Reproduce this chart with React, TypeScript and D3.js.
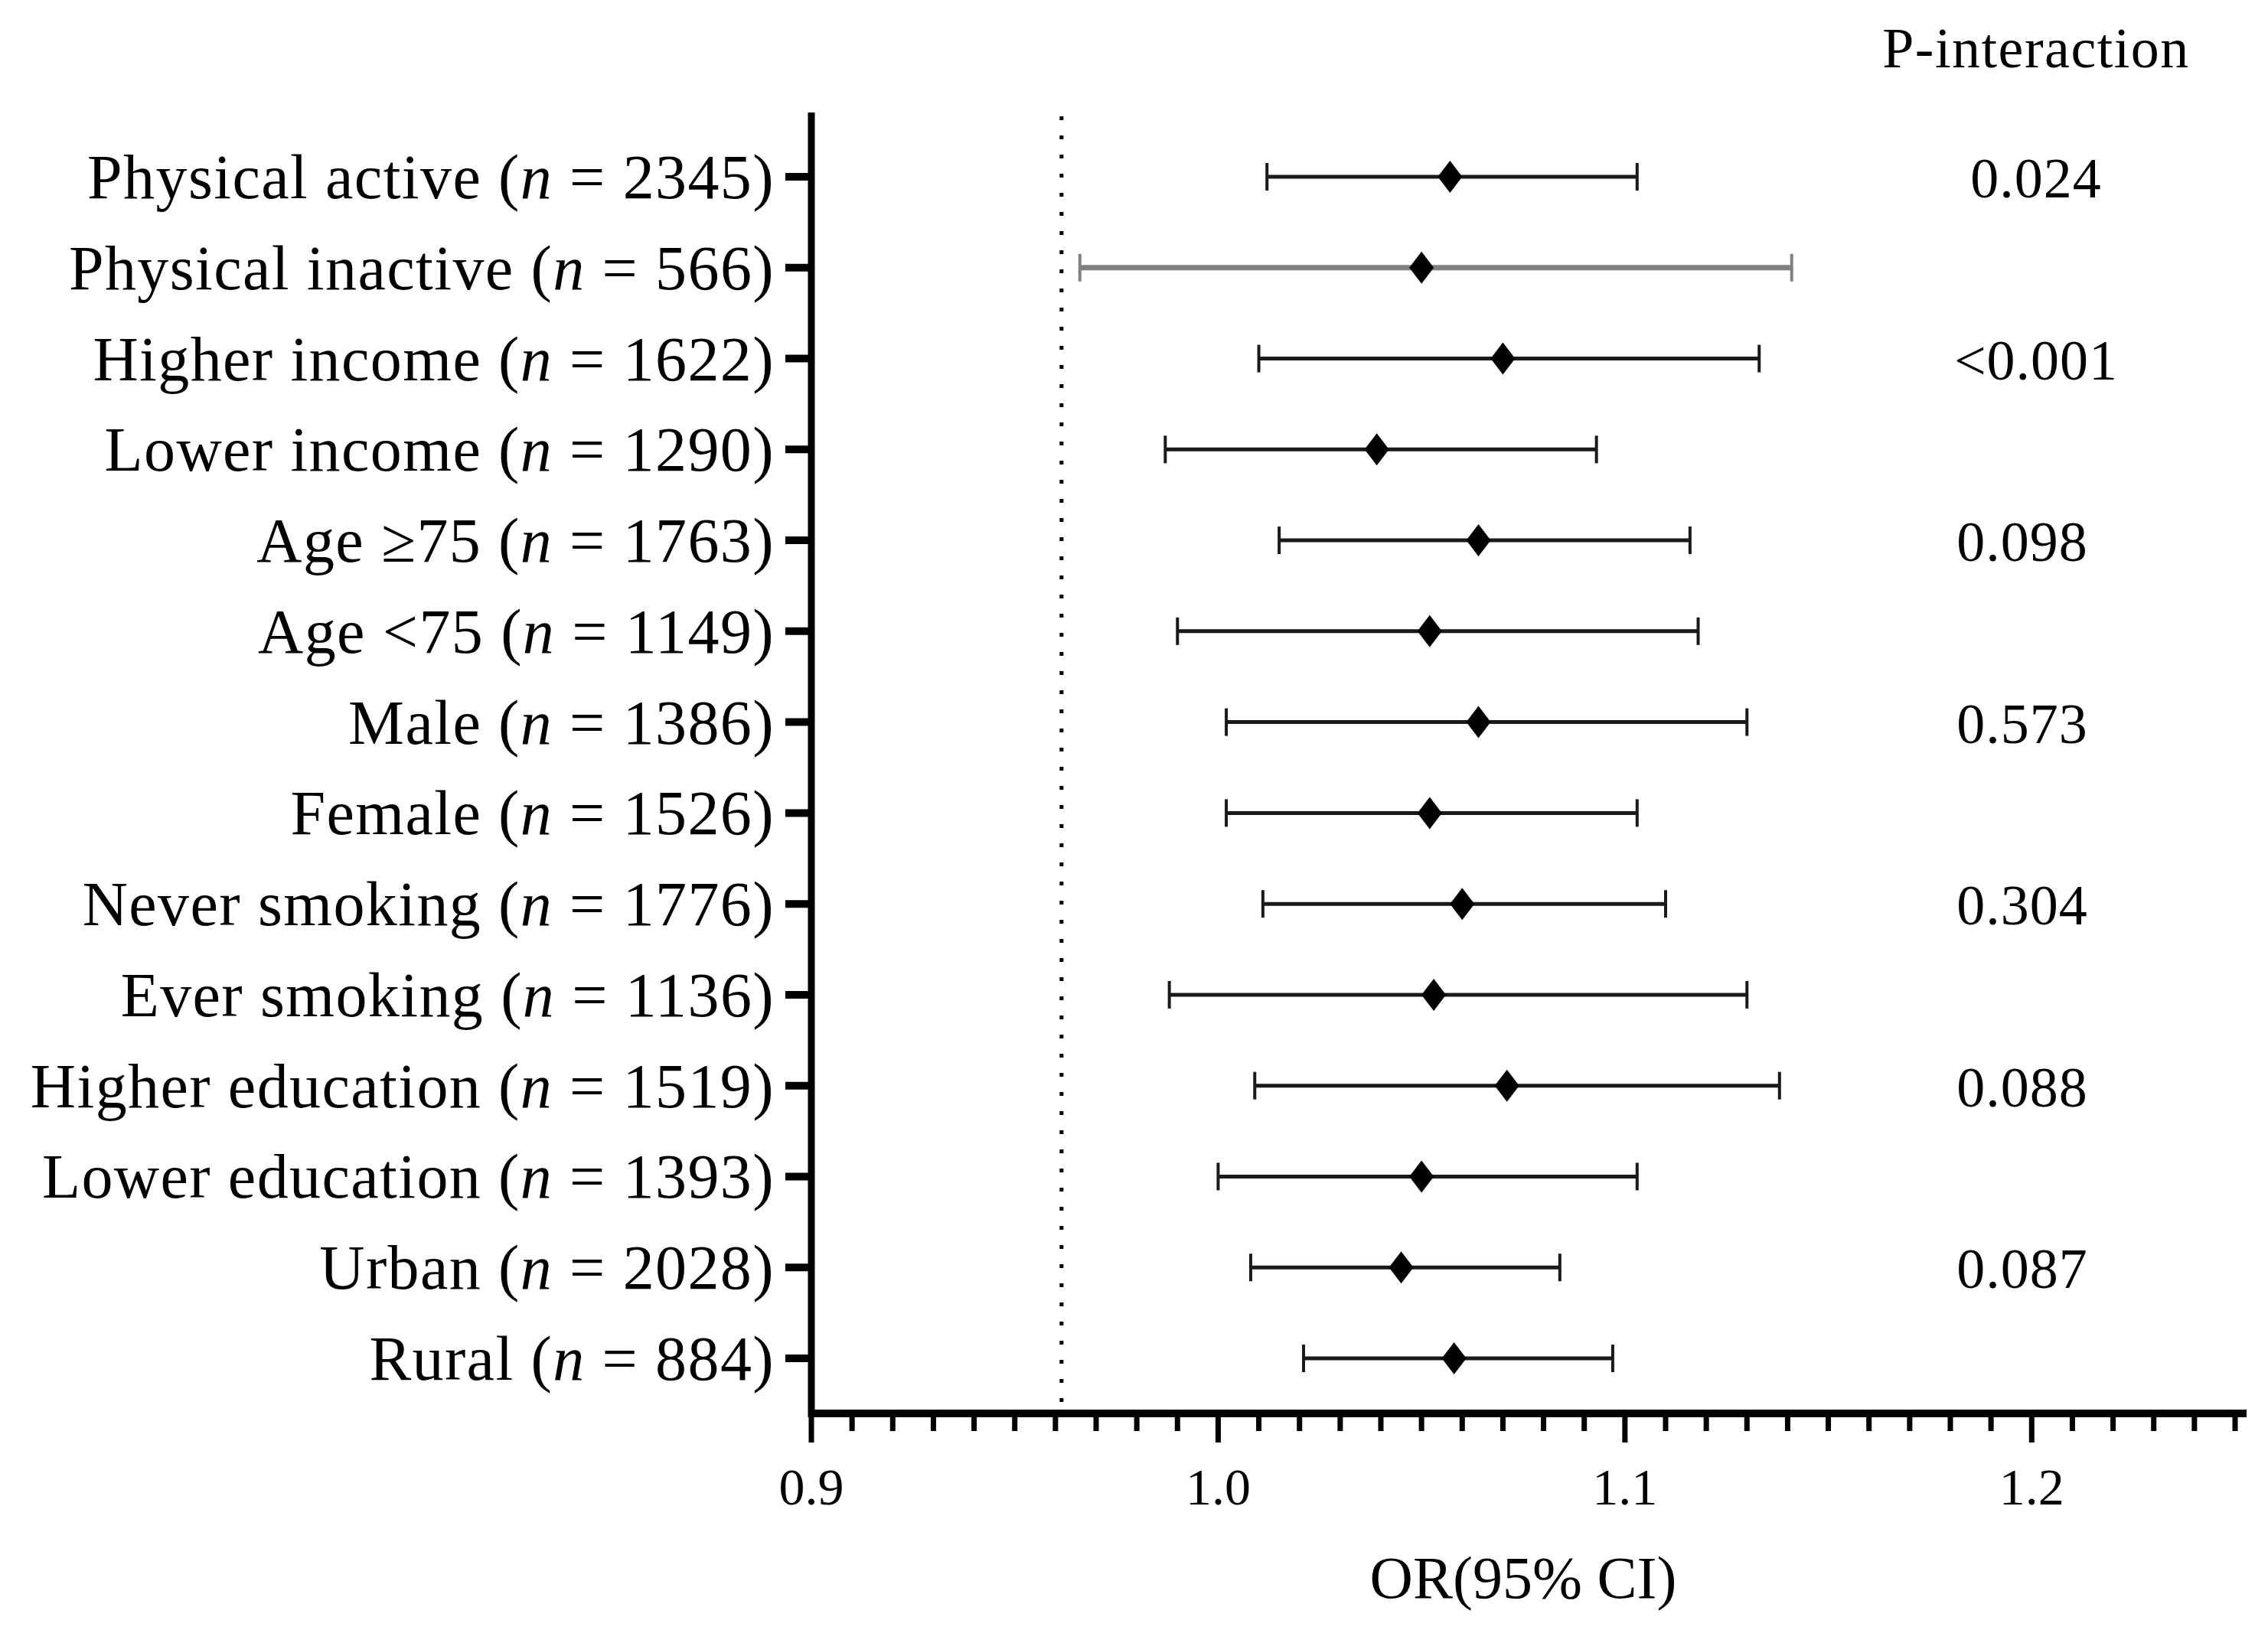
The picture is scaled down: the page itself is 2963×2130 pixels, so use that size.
import { useEffect } from "react"
import * as d3 from "d3"

const groups = [
  "Physical active",
  "Physical inactive",
  "Higher income",
  "Lower income",
  "Age ≥75",
  "Age <75",
  "Male",
  "Female",
  "Never smoking",
  "Ever smoking",
  "Higher education",
  "Lower education",
  "Urban",
  "Rural",
]
const sampleSizes = [2345, 566, 1622, 1290, 1763, 1149, 1386, 1526, 1776, 1136, 1519, 1393, 2028, 884]
const oddsRatio = [1.057, 1.050, 1.070, 1.039, 1.064, 1.052, 1.064, 1.052, 1.060, 1.053, 1.071, 1.050, 1.045, 1.058]
const lowerCI = [1.012, 0.966, 1.010, 0.987, 1.015, 0.990, 1.002, 1.002, 1.011, 0.988, 1.009, 1.000, 1.008, 1.021]
const upperCI = [1.103, 1.141, 1.133, 1.093, 1.116, 1.118, 1.130, 1.103, 1.110, 1.130, 1.138, 1.103, 1.084, 1.097]
const pInteraction = ["0.024", null, "<0.001", null, "0.098", null, "0.573", null, "0.304", null, "0.088", null, "0.087", null]
const xTicks = [0.9, 1.0, 1.1, 1.2]
const refLine = 0.9615

const W = 2963
const H = 2130
const font = "'Liberation Serif', 'DejaVu Serif', serif"

const App = () => {
  useEffect(() => {
    document.body.style.margin = "0"
  }, [])

  const x = d3.scaleLinear().domain([0.9, 1.25]).range([1060, 2920])
  const y = d3.scalePoint<string>().domain(groups).range([231, 1775])
  const axisY = 1847
  const minor = d3.range(90, 126).map((d) => d / 100)

  return (
    <svg width={W} height={H} style={{ display: "block", background: "#fff" }}>
      {/* dotted reference line */}
      <line
        x1={x(refLine)}
        x2={x(refLine)}
        y1={152}
        y2={axisY - 8}
        stroke="#000"
        strokeWidth={5}
        strokeDasharray="5,20"
      />

      {/* y axis */}
      <line x1={1060} x2={1060} y1={147} y2={axisY + 5} stroke="#000" strokeWidth={9} />
      {groups.map((g) => (
        <line key={g} x1={1026} x2={1060} y1={y(g)} y2={y(g)} stroke="#000" strokeWidth={10} />
      ))}

      {/* x axis */}
      <line x1={1056} x2={2935} y1={axisY} y2={axisY} stroke="#000" strokeWidth={10} />
      {minor.map((t) => {
        const major = xTicks.some((m) => Math.abs(m - t) < 1e-6)
        return (
          <line
            key={t}
            x1={x(t)}
            x2={x(t)}
            y1={axisY}
            y2={axisY + (major ? 38 : 23)}
            stroke="#000"
            strokeWidth={7}
          />
        )
      })}
      {xTicks.map((t) => (
        <text
          key={t}
          x={x(t)}
          y={1966}
          textAnchor="middle"
          fontFamily={font}
          fontSize={68}
          fill="#000"
        >
          {d3.format(".1f")(t)}
        </text>
      ))}
      <text x={1990} y={2088} textAnchor="middle" fontFamily={font} fontSize={78} fill="#000">
        OR(95% CI)
      </text>

      {/* header */}
      <text
        x={2660}
        y={88}
        textAnchor="middle"
        fontFamily={font}
        fontSize={74}
        letterSpacing={1.5}
        fill="#000"
      >
        P-interaction
      </text>

      {/* rows */}
      {groups.map((g, i) => {
        const cy = y(g) as number
        const col = i === 1 ? "#808080" : "#1a1a1a"
        const cx = x(oddsRatio[i])
        return (
          <g key={g}>
            <text
              x={1012}
              y={cy + 28}
              textAnchor="end"
              fontFamily={font}
              fontSize={82}
              letterSpacing={1.4}
              fill="#000"
            >
              {g} (<tspan fontStyle="italic">n</tspan> = {sampleSizes[i]})
            </text>
            <line
              x1={x(lowerCI[i])}
              x2={x(upperCI[i])}
              y1={cy}
              y2={cy}
              stroke={col}
              strokeWidth={i === 1 ? 7 : 5}
            />
            <line x1={x(lowerCI[i])} x2={x(lowerCI[i])} y1={cy - 18} y2={cy + 18} stroke={col} strokeWidth={4} />
            <line x1={x(upperCI[i])} x2={x(upperCI[i])} y1={cy - 18} y2={cy + 18} stroke={col} strokeWidth={4} />
            <path d={`M${cx},${cy - 21}L${cx + 16},${cy}L${cx},${cy + 21}L${cx - 16},${cy}Z`} fill="#000" />
            {pInteraction[i] && (
              <text
                x={i === 0 || i === 2 ? 2660 : 2642}
                y={cy + 27}
                textAnchor="middle"
                fontFamily={font}
                fontSize={74}
                letterSpacing={1}
                fill="#000"
              >
                {pInteraction[i]}
              </text>
            )}
          </g>
        )
      })}
    </svg>
  )
}

export default App
